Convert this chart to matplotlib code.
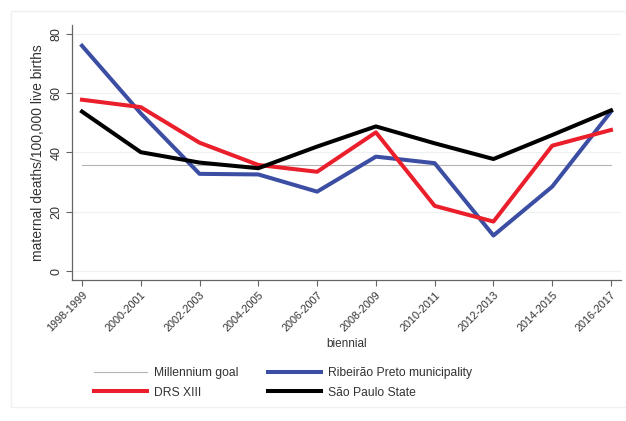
import matplotlib
matplotlib.use('Agg')
import matplotlib.pyplot as plt
from matplotlib.patches import Rectangle

plt.rcParams['font.family'] = ['Liberation Sans', 'DejaVu Sans']

# data
BIENNIA = ['1998-1999', '2000-2001', '2002-2003', '2004-2005', '2006-2007',
           '2008-2009', '2010-2011', '2012-2013', '2014-2015', '2016-2017']
RIBEIRAO = [76.0, 53.2, 32.8, 32.6, 26.8, 38.6, 36.4, 12.0, 28.5, 53.8]
DRS_XIII = [57.8, 55.3, 43.3, 35.8, 33.5, 46.8, 22.0, 16.7, 42.3, 47.6]
SAO_PAULO = [53.8, 40.1, 36.6, 34.7, 42.0, 48.8, 43.1, 37.8, 45.9, 54.2]
MILLENNIUM_GOAL = 35.8
Y_TICKS = [0, 20, 40, 60, 80]

BLUE = '#3b4ea3'
RED = '#ea1f2b'
BLACK = '#000000'
GRAY = '#b4b4b4'

W, H = 626, 421
fig = plt.figure(figsize=(W / 100, H / 100), dpi=100)
fig.patch.set_facecolor('white')

# faint outer frame of the graph region
fig.add_artist(Rectangle((11 / W, 14 / H), (W - 11) / W, (H - 11 - 14) / H,
                         transform=fig.transFigure, fill=False,
                         edgecolor='#eef0f2', linewidth=1.0))

ax = fig.add_axes([72 / W, 1 - 280 / H, (621 - 72) / W, (280 - 25) / H])
x = list(range(len(BIENNIA)))

for yv in Y_TICKS:
    ax.axhline(yv, color='#eef0f2', linewidth=0.9, zorder=0)

goal, = ax.plot([x[0], x[-1]], [MILLENNIUM_GOAL] * 2, color=GRAY,
                linewidth=0.8, zorder=1)
rib, = ax.plot(x, RIBEIRAO, color=BLUE, linewidth=2.9, zorder=2)
drs, = ax.plot(x, DRS_XIII, color=RED, linewidth=2.9, zorder=3)
sp, = ax.plot(x, SAO_PAULO, color=BLACK, linewidth=2.9, zorder=4)

ax.set_xlim(-0.17, 9.17)
ax.set_ylim(-3, 83)
ax.set_xticks(x)
ax.set_xticklabels(BIENNIA, rotation=45, ha='right', rotation_mode='anchor',
                   fontsize=7.8, color='#333333')
ax.set_yticks(Y_TICKS)
ax.set_yticklabels([str(v) for v in Y_TICKS], rotation=90, va='center',
                   fontsize=9, color='#333333')
ax.tick_params(axis='both', direction='out', length=4, width=0.8,
               color='#666666', pad=3)

for side in ['top', 'right']:
    ax.spines[side].set_visible(False)
for side in ['left', 'bottom']:
    ax.spines[side].set_color('#666666')
    ax.spines[side].set_linewidth(0.9)

ax.set_xlabel('biennial', fontsize=8.5, color='#333333', labelpad=3)
ax.set_ylabel('maternal deaths/100,000 live births', fontsize=10,
              color='#333333', labelpad=4)

fig.legend([goal, drs, rib, sp],
           ['Millennium goal', 'DRS XIII', 'Ribeirão Preto municipality',
            'São Paulo State'],
           ncol=2, loc='center', bbox_to_anchor=(283 / W, 1 - 383 / H),
           frameon=False, fontsize=8.7, handlelength=4.4, columnspacing=2.4,
           handletextpad=0.6, labelspacing=0.6, labelcolor='#333333')

fig.savefig('out.png', dpi=100)
